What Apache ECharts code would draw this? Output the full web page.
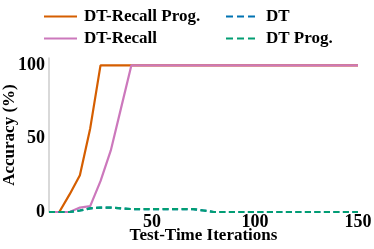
<!DOCTYPE html>
<html><head><meta charset="utf-8">
<script src="https://cdn.jsdelivr.net/npm/echarts@6/dist/echarts.min.js"></script>
<style>html,body{margin:0;padding:0;background:#fff}#c{width:374px;height:249px}</style>
</head><body><div id="c"></div>
<script>
var iterations = [0,5,10,15,20,25,30,35,40,45,50,55,60,65,70,75,80,85,90,95,100,105,110,115,120,125,130,135,140,145,150];
var dtRecallProg = [0,0,12,25,57,100,100,100,100,100,100,100,100,100,100,100,100,100,100,100,100,100,100,100,100,100,100,100,100,100,100];
var dtRecall     = [0,0,0,3,4,21,42,71,100,100,100,100,100,100,100,100,100,100,100,100,100,100,100,100,100,100,100,100,100,100,100];
var dt           = [0,0,0,1,2.5,3,3,2.5,2,2,2,2,2,2,2,1,0,0,0,0,0,0,0,0,0,0,0,0,0,0,0];
var dtProg       = [0,0,0,1,2.5,3,3,2.5,2,2,2,2,2,2,2,1,0,0,0,0,0,0,0,0,0,0,0,0,0,0,0];
var xTicks = [50,100,150];
var yTicks = [0,50,100];
var seriesNames = ['DT-Recall Prog.','DT-Recall','DT','DT Prog.'];
var colors = ['#d55e00','#cc78bc','#0173b2','#029e73'];

function pairs(v){return iterations.map(function(x,i){return [x,v[i]];});}
var font = 'Liberation Serif';
var chart = echarts.init(document.getElementById('c'));
var data = [dtRecallProg, dtRecall, dt, dtProg];
var series = data.map(function(v,i){
  return {name:seriesNames[i], type:'line', data:pairs(v), symbol:'none', clip:false,
    lineStyle:{color:colors[i], width:2.2, type: i>=2 ? [6,3.5] : 'solid'},
    itemStyle:{color:colors[i]}};
});
var solidIcon = 'path://M0,4L33,4L33,6.2L0,6.2Z';
var dashIcon = 'path://M0,4L7,4L7,6.2L0,6.2Z M11,4L18,4L18,6.2L11,6.2Z M22,4L29,4L29,6.2L22,6.2Z M33,4L33,6.2L33,6.2Z';
var legendCommon = {orient:'vertical', itemWidth:33, itemHeight:10, itemGap:5,
  textStyle:{fontFamily:font, fontWeight:'bold', fontSize:17, color:'#000', padding:[0,0,0,2]},
  top:3};
chart.setOption({
  animation:false,
  legend:[
    Object.assign({}, legendCommon, {left:39, data:[
      {name:seriesNames[0], icon:solidIcon}, {name:seriesNames[1], icon:solidIcon}]}),
    Object.assign({}, legendCommon, {left:221, data:[
      {name:seriesNames[2], icon:dashIcon}, {name:seriesNames[3], icon:dashIcon}]})
  ],
  grid:{left:49, right:16, top:58, bottom:37, outerBoundsMode:'none', containLabel:false},
  xAxis:{type:'value', min:0, max:150, interval:50,
    name:'Test-Time Iterations', nameLocation:'middle', nameGap:15, nameMoveOverlap:false,
    nameTextStyle:{fontFamily:font, fontWeight:'bold', fontSize:17, color:'#000'},
    axisLine:{show:false}, axisTick:{show:false}, splitLine:{show:false},
    axisLabel:{fontFamily:font, fontWeight:'bold', fontSize:18, color:'#000', margin:1,
      formatter:function(v){return xTicks.indexOf(v)>=0 ? String(v) : '';}}},
  yAxis:{type:'value', min:0, max:105, interval:50,
    name:'Accuracy (%)', nameLocation:'middle', nameGap:31, nameRotate:90, nameMoveOverlap:false,
    nameTextStyle:{fontFamily:font, fontWeight:'bold', fontSize:17, color:'#000'},
    axisLine:{show:true, lineStyle:{color:'#cccccc', width:1.5}}, axisTick:{show:false}, splitLine:{show:false},
    axisLabel:{fontFamily:font, fontWeight:'bold', fontSize:18, color:'#000', margin:4,
      formatter:function(v){return yTicks.indexOf(v)>=0 ? String(v) : '';}}},
  series:series
});
</script></body></html>
